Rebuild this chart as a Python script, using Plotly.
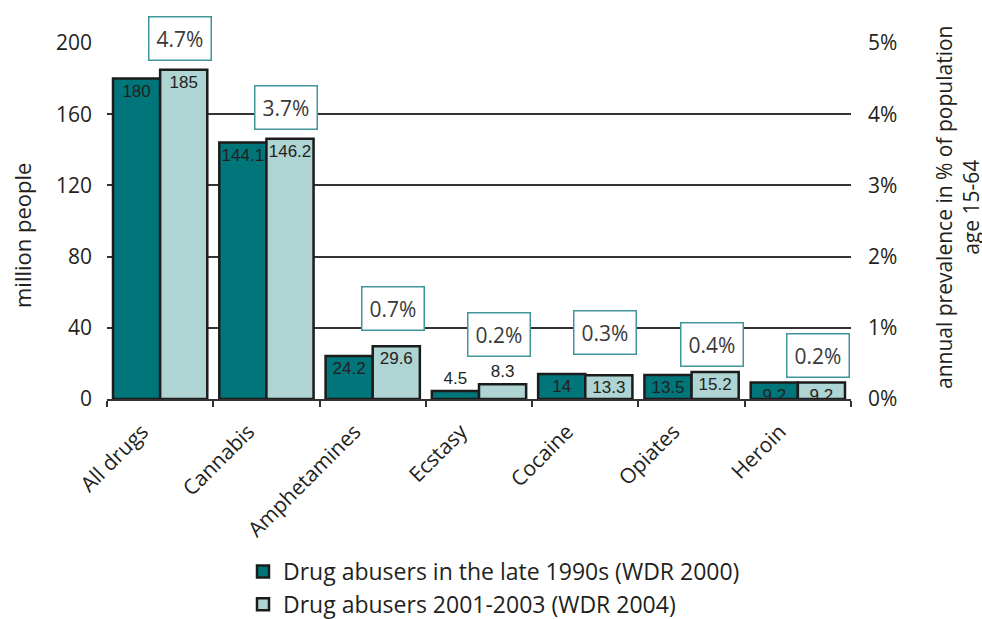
import plotly.graph_objects as go

categories = ["All drugs", "Cannabis", "Amphetamines", "Ecstasy", "Cocaine", "Opiates", "Heroin"]
late_1990s = [180, 144.1, 24.2, 4.5, 14, 13.5, 9.2]
y2001_2003 = [185, 146.2, 29.6, 8.3, 13.3, 15.2, 9.2]
prevalence_pct = [4.7, 3.7, 0.7, 0.2, 0.3, 0.4, 0.2]
left_ticks = [0, 40, 80, 120, 160, 200]
right_ticks = [0, 1, 2, 3, 4, 5]

# label placement (pixel offsets of the prevalence boxes above their value)
label_yshift = [26, 28, 41, 50, 45, 26, 29]

DARK = "#00757A"
LIGHT = "#AED4D4"
EDGE = "#1c1c1c"
TXT = "#231f20"
FONT = "Open Sans, Noto Sans, sans-serif"
BARFONT = "Liberation Sans Narrow, Liberation Sans, sans-serif"

L, R, T, B = 107, 131, 43, 220
W, H = 982, 619
pw, ph = W - L - R, H - T - B

def px_x(x):
    return (x - L) / pw

def px_y(y):
    return (H - B - y) / ph

def text_positions(vals):
    return ["outside" if v < 9 else "inside" for v in vals]

def bar_trace(vals, name, color):
    f = dict(family=BARFONT, size=17, color=TXT)
    return go.Bar(
        x=categories, y=vals, name=name,
        marker=dict(color=color, line=dict(color=EDGE, width=2.5)),
        text=[str(v) for v in vals], textposition=text_positions(vals),
        insidetextanchor="end", textangle=0, constraintext="none",
        textfont=f, outsidetextfont=f, insidetextfont=f, cliponaxis=False,
    )

fig = go.Figure()
fig.add_trace(bar_trace(late_1990s, "Drug abusers in the late 1990s (WDR 2000)", DARK))
fig.add_trace(bar_trace(y2001_2003, "Drug abusers 2001-2003 (WDR 2004)", LIGHT))
fig.add_trace(go.Scatter(
    x=categories, y=prevalence_pct, yaxis="y2", mode="markers",
    marker=dict(opacity=0), showlegend=False, hoverinfo="skip",
))

for cat, p, ys in zip(categories, prevalence_pct, label_yshift):
    fig.add_annotation(
        x=cat, y=p, xref="x", yref="y2", text=f"{p}%", showarrow=False,
        xanchor="center", yanchor="middle",
        xshift=20, yshift=ys, bgcolor="white", bordercolor="#3f9599",
        borderwidth=1.5, borderpad=7, font=dict(family=FONT, size=21, color="#3a3a3a"),
    )

fig.add_annotation(
    x=px_x(22), y=px_y(236), xref="paper", yref="paper", text="million people",
    xanchor="center", yanchor="middle",
    textangle=-90, showarrow=False, font=dict(family=FONT, size=22, color=TXT),
)
fig.add_annotation(
    x=px_x(957), y=px_y(208), xref="paper", yref="paper",
    text="annual prevalence in % of population<br>age 15-64",
    xanchor="center", yanchor="middle",
    textangle=-90, showarrow=False, font=dict(family=FONT, size=21, color=TXT),
)

fig.update_layout(
    width=W, height=H, margin=dict(l=L, r=R, t=T, b=B, autoexpand=False),
    paper_bgcolor="white", plot_bgcolor="white",
    barmode="group", bargap=0.113, bargroupgap=0,
    font=dict(family=FONT, size=21, color=TXT),
    showlegend=True,
    legend=dict(
        x=px_x(243), y=px_y(550), xanchor="left", yanchor="top",
        orientation="v", font=dict(family=FONT, size=23, color=TXT),
        bgcolor="rgba(0,0,0,0)", tracegroupgap=0,
    ),
    xaxis=dict(
        type="category", tickson="boundaries", ticks="outside", ticklen=6,
        tickwidth=2, tickcolor="#333", showline=True, linecolor="#333", linewidth=2,
        tickangle=-45, tickfont=dict(family=FONT, size=21, color=TXT),
        ticklabelstandoff=10, ticklabelshift=-18,
        showgrid=False, automargin=False,
    ),
    yaxis=dict(
        range=[0, 200], tickvals=left_ticks, showgrid=True, gridcolor="#333",
        gridwidth=2, zeroline=False, showline=False, ticks="",
        ticklabelstandoff=14, tickfont=dict(family=FONT, size=21, color=TXT),
        automargin=False,
    ),
    yaxis2=dict(
        range=[0, 5], tickvals=right_ticks, ticktext=[f"{t}%" for t in right_ticks],
        overlaying="y", side="right", showgrid=False, zeroline=False,
        showline=False, ticks="", ticklabelstandoff=16,
        tickfont=dict(family=FONT, size=21, color=TXT), automargin=False,
    ),
)

fig.write_html("out.html", config={"displayModeBar": False},
               post_script="document.body.style.margin='0px';")
